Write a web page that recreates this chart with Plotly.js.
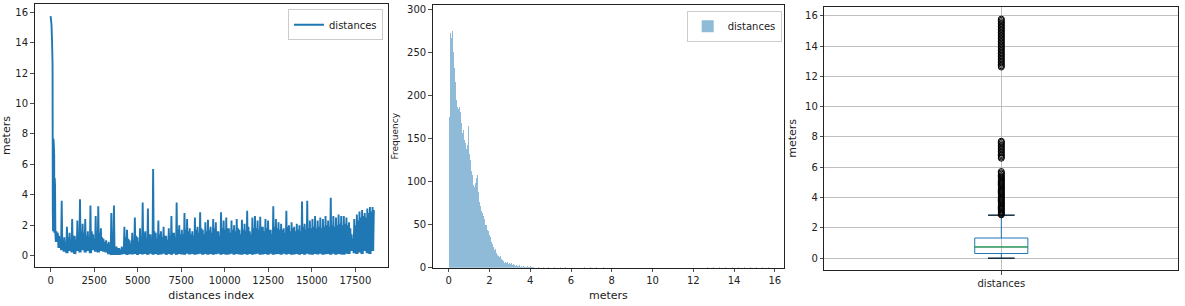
<!DOCTYPE html>
<html>
<head>
<meta charset="utf-8">
<script src="https://cdn.plot.ly/plotly-3.0.1.min.js"></script>
<style>html,body{margin:0;padding:0;background:#fff;}#chart{width:1185px;height:306px;}</style>
</head>
<body>
<div id="chart"></div>
<script>
// ---------- Panel 1: distances line ----------
// start of the series: explicit vertices (index, meters)
const headIdx = [0, 20, 50, 80, 100, 112, 125, 140, 155, 170, 190, 205, 215, 235, 255, 275];
const headVal = [15.75, 15.6, 15.2, 14.2, 13.0, 12.6, 3.0, 1.6, 7.7, 7.6, 7.1, 6.6, 1.5, 5.1, 4.6, 1.4];
// rest of the series: per index block (300, 450, ... 18450) the peak, the top of the dense part and the low seen
const bandStartIdx = 300;
const bandStepIdx = 150;
const bandIdxTicks = ['0','2500','5000','7500','10000','12500','15000','17500'];
const bandHigh = [1.6,1.3,3.6,1.2,1.9,1.5,2.4,1.3,2.3,3.7,2.1,2.4,1.6,3.3,1.4,2.6,3.25,1.8,1.1,1.0,
  0.9,2.8,3.3,0.6,0.5,0.6,1.9,1.7,1.0,1.5,2.5,1.2,1.8,3.5,1.6,3.1,1.4,5.7,1.5,2.3,
  1.6,1.9,1.3,1.8,2.6,1.5,3.5,2.0,1.7,2.8,2.4,1.8,1.6,2.5,1.9,2.85,1.7,2.2,2.35,1.9,
  2.4,2.2,1.6,2.85,2.3,2.5,1.8,2.3,2.0,2.4,1.7,2.35,2.1,2.95,1.6,2.5,2.6,2.3,2.55,1.9,
  2.4,2.3,1.7,3.25,2.4,2.2,2.1,1.8,2.95,2.0,2.2,1.9,2.1,2.0,3.55,2.1,3.6,2.3,2.4,2.6,
  2.3,2.5,2.4,2.6,2.3,3.8,2.6,2.5,2.7,2.6,2.6,2.5,2.2,1.4,2.4,2.7,2.9,3.0,2.8,3.1,
  3.2,3.2];
const bandMid = [1.5,1.1,1.0,0.9,1.2,1.0,1.3,1.0,1.4,1.6,1.5,1.3,1.2,1.6,1.1,1.4,1.5,1.2,0.9,0.8,
  0.6,0.7,0.6,0.5,0.4,0.5,
  1.2,1.1,0.8,1.0,1.3,0.9,1.2,1.5,1.1,1.4,1.0,1.6,1.1,1.4,1.2,1.3,1.0,1.3,1.5,1.2,1.7,1.4,
  1.4,1.7,1.6,1.4,1.3,1.7,1.5,1.8,1.4,1.6,1.7,1.5,1.8,1.6,1.3,1.8,1.7,1.8,1.5,1.7,
  1.6,1.8,1.4,1.7,1.6,1.9,1.4,1.8,1.8,1.7,1.9,1.6,1.8,1.7,1.4,1.9,1.8,1.7,1.7,1.5,
  1.9,1.6,1.8,1.6,1.7,1.6,1.9,1.7,1.8,1.8,1.9,1.8,1.9,1.8,1.9,2.0,1.9,2.0,1.9,2.0,
  2.1,2.0,2.1,2.0,1.8,
  1.1,2.0,2.3,2.5,2.6,2.5,2.8,2.9,3.0];
const bandLow = [0.9,0.5,0.35,0.25,0.15,0.3,0.2,0.1,0.3,0.2,0.35,0.2,0.3,0.15,0.35,0.25,0.2,0.3,0.25,0.2,
  0.1,0.05,0.05,0.05,0.05,0.08,0.1,0.05,0.1,0.08,0.1,0.05,0.1,0.08,0.1,0.05,0.12,0.06,0.1,0.05,
  0.08,0.12,0.05,0.1,0.06,0.12,0.05,0.1,0.08,0.05,0.12,0.07,0.1,0.05,0.09,0.12,0.05,0.1,0.06,0.11,
  0.05,0.09,0.12,0.06,0.1,0.05,0.08,0.12,0.05,0.1,0.07,0.05,0.11,0.06,0.1,0.05,0.09,0.12,0.05,0.08,
  0.1,0.06,0.12,0.05,0.09,0.1,0.05,0.12,0.07,0.1,0.05,0.08,0.11,0.06,0.1,0.05,0.12,0.08,0.05,0.1,
  0.07,0.12,0.05,0.09,0.1,0.06,0.12,0.05,0.1,0.08,0.06,0.12,0.1,0.3,0.15,0.1,0.2,0.1,0.3,0.15,
  0.1,0.3];

// ---------- Panel 2: histogram (bar heights) ----------
const binStart = 0.0;
const binWidth = 0.05;
const binCounts = [175,272,266,275,250,232,215,195,186,184,186,180,168,156,160,148,145,138,142,164,
  132,125,112,108,96,94,98,104,108,88,76,72,66,64,60,56,50,44,42,38,
  36,30,27,24,21,22,17,15,13,12,14,10,9,8,6,7,5,7,4,5,
  4,6,3,4,3,2,3,2,2,3,1,2,1,2,1,1,1,2,1,1,
  2,1,1,1];
const tailBinCenters = [4.4,4.65,4.9,5.2,5.5,5.75,6.65,6.95,7.25,7.6,12.7,13.0,13.3,13.6,13.9,14.2,14.5,14.8,15.1,15.4,15.7];
const tailBinCounts  = [1,1,1,1,1,1,1,1,1,1,1,1,1,1,1,1,1,1,1,1,1];

// ---------- Panel 3: boxplot statistics ----------
const boxCategory = 'distances';
const boxQ1 = 0.31, boxMedian = 0.74, boxQ3 = 1.33, boxLowWhisker = 0.0, boxHighWhisker = 2.84;
const outliers = [2.86,2.92,2.98,3.05,3.12,3.2,3.27,3.35,3.42,3.5,3.58,3.65,3.72,3.8,3.88,3.95,4.02,4.1,4.18,4.25,
  4.33,4.4,4.48,4.55,4.63,4.7,4.78,4.85,4.93,5.0,5.08,5.15,5.22,5.3,5.38,5.45,5.55,5.63,5.72,
  6.6,6.68,6.77,6.85,6.95,7.05,7.15,7.25,7.35,7.45,7.55,7.65,7.72,
  12.62,12.7,12.8,12.9,13.0,13.1,13.2,13.3,13.4,13.5,13.6,13.7,13.8,13.9,14.0,14.1,14.2,14.3,14.4,14.5,
  14.6,14.7,14.8,14.9,15.0,15.1,15.2,15.3,15.4,15.5,15.6,15.7,15.78];

// ---------- build traces ----------
const lineX = headIdx.slice(), lineY = headVal.slice();
for (let k = 0; k < bandHigh.length; k++) {
  const base = bandStartIdx + k * bandStepIdx;
  const q = bandStepIdx / 4;
  lineX.push(base);         lineY.push(bandLow[k]);
  lineX.push(base + q);     lineY.push(bandHigh[k]);
  lineX.push(base + 2 * q); lineY.push(bandLow[k]);
  lineX.push(base + 3 * q); lineY.push(bandMid[k]);
}
const blue = '#1f77b4';
const histX = binCounts.map((_, k) => binStart + binWidth * (k + 0.5)).concat(tailBinCenters);
const histY = binCounts.concat(tailBinCounts);

const boxPos = 1, boxW = 0.15, capW = 0.075;

const traces = [
  {type: 'scatter', mode: 'lines', x: lineX, y: lineY, name: 'distances',
   line: {color: blue, width: 1.9}, xaxis: 'x', yaxis: 'y', legend: 'legend', showlegend: true},
  {type: 'bar', x: histX, y: histY, width: binWidth, name: 'distances',
   marker: {color: 'rgba(31,119,180,0.5)', line: {width: 0}}, xaxis: 'x2', yaxis: 'y2',
   legend: 'legend2', showlegend: true},
  {type: 'box', x: [boxPos], q1: [boxQ1], median: [boxMedian], q3: [boxQ3],
   lowerfence: [boxLowWhisker], upperfence: [boxHighWhisker], width: boxW, whiskerwidth: 0.5,
   line: {color: blue, width: 1}, fillcolor: 'rgba(0,0,0,0)', boxpoints: false,
   xaxis: 'x3', yaxis: 'y3', showlegend: false, hoverinfo: 'skip'},
  {type: 'scatter', mode: 'lines', x: [boxPos - boxW / 2, boxPos + boxW / 2], y: [boxMedian, boxMedian],
   line: {color: '#2ca02c', width: 1}, xaxis: 'x3', yaxis: 'y3', showlegend: false},
  {type: 'scatter', mode: 'lines', x: [boxPos - capW / 2, boxPos + capW / 2, null, boxPos - capW / 2, boxPos + capW / 2],
   y: [boxLowWhisker, boxLowWhisker, null, boxHighWhisker, boxHighWhisker],
   line: {color: '#000', width: 1}, xaxis: 'x3', yaxis: 'y3', showlegend: false},
  {type: 'scatter', mode: 'markers', x: outliers.map(() => boxPos), y: outliers,
   marker: {symbol: 'circle-open', size: 6, color: '#000', line: {width: 1, color: '#000'}},
   xaxis: 'x3', yaxis: 'y3', showlegend: false}
];

const font = {family: 'DejaVu Sans', size: 10, color: '#222'};
const titleFont = {family: 'DejaVu Sans', size: 11, color: '#222'};
function ax(extra) {
  return Object.assign({
    showline: true, mirror: true, linecolor: '#222', linewidth: 1,
    ticks: 'outside', ticklen: 3.5, tickwidth: 0.8, tickcolor: '#222',
    zeroline: false, showgrid: false, tickfont: font, automargin: false
  }, extra);
}
const W = 1185, H = 306;
const layout = {
  width: W, height: H,
  margin: {l: 0, r: 0, t: 0, b: 0},
  paper_bgcolor: '#fff', plot_bgcolor: '#fff',
  font: font,
  bargap: 0,
  xaxis: ax({domain: [34.5 / W, 388 / W], range: [-925, 19375],
    tickvals: bandIdxTicks.map(Number), ticktext: bandIdxTicks,
    title: {text: 'distances index', font: titleFont, standoff: 6}, anchor: 'y'}),
  yaxis: ax({domain: [1 - 267 / H, 1 - 4 / H], range: [-0.75, 16.55], tickvals: [0,2,4,6,8,10,12,14,16],
    title: {text: 'meters', font: titleFont, standoff: 6}, anchor: 'x'}),
  xaxis2: ax({domain: [432.7 / W, 784 / W], range: [-0.79, 16.45], tickvals: [0,2,4,6,8,10,12,14,16],
    title: {text: 'meters', font: titleFont, standoff: 6}, anchor: 'y2'}),
  yaxis2: ax({domain: [1 - 267.7 / H, 1 - 4.7 / H], range: [0, 305], tickvals: [0,50,100,150,200,250,300],
    title: {text: 'Frequency', font: {family: 'DejaVu Sans', size: 9, color: '#222'}, standoff: 6}, anchor: 'x2'}),
  xaxis3: ax({domain: [824.3 / W, 1178.3 / W], range: [0.5, 1.5], tickvals: [boxPos], ticktext: [boxCategory],
    showgrid: true, gridcolor: '#b0b0b0', gridwidth: 0.8, anchor: 'y3'}),
  yaxis3: ax({domain: [1 - 270 / H, 1 - 6.7 / H], range: [-0.78, 16.6], tickvals: [0,2,4,6,8,10,12,14,16],
    showgrid: true, gridcolor: '#b0b0b0', gridwidth: 0.8,
    title: {text: 'meters', font: titleFont, standoff: 6}, anchor: 'x3'}),
  legend: {x: 383 / W, y: 1 - 9.3 / H, xanchor: 'right', yanchor: 'top', bordercolor: '#cccccc', borderwidth: 1,
    bgcolor: 'rgba(255,255,255,0.8)', font: font, tracegroupgap: 0, itemwidth: 30},
  legend2: {x: 781.7 / W, y: 1 - 10.7 / H, xanchor: 'right', yanchor: 'top', bordercolor: '#cccccc', borderwidth: 1,
    bgcolor: 'rgba(255,255,255,0.8)', font: font, tracegroupgap: 0, itemwidth: 30},
  showlegend: true
};
Plotly.newPlot('chart', traces, layout, {staticPlot: true, displayModeBar: false});
</script>
</body>
</html>
